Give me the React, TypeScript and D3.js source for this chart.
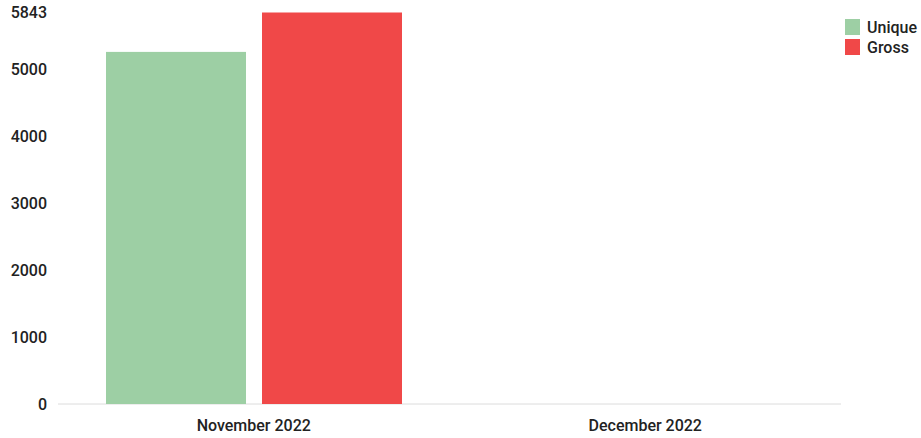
import React from "react";
import * as d3 from "d3";

const categories = ["November 2022", "December 2022"];
const seriesNames = ["Unique", "Gross"];
const uniqueValues = [5255, 0];
const grossValues = [5843, 0];
const yTicks = [0, 1000, 2000, 3000, 4000, 5000, 5843];
const colors = ["#9dcfa4", "#f04848"];

const W = 921;
const H = 438;
const margin = { left: 58, right: 80, top: 12.5, bottom: 34 };

export default function App() {
  const x0 = d3
    .scaleBand<string>()
    .domain(categories)
    .range([margin.left, W - margin.right])
    .paddingInner(0)
    .paddingOuter(0);
  const x1 = d3
    .scaleBand<string>()
    .domain(seriesNames)
    .range([48, 344])
    .paddingInner(0.1026)
    .paddingOuter(0);
  const y = d3.scaleLinear().domain([0, 5843]).range([H - margin.bottom, margin.top]);
  const values = [uniqueValues, grossValues];
  const font = "Roboto, 'Liberation Sans', Arial, sans-serif";

  return (
    <svg
      width={W}
      height={H}
      style={{ position: "absolute", left: 0, top: 0, background: "#fff" }}
      fontFamily={font}
    >
      <line
        x1={margin.left}
        x2={W - margin.right}
        y1={y(0)}
        y2={y(0)}
        stroke="#dcdcdc"
        strokeWidth={1}
      />
      {yTicks.map((t) => (
        <text
          key={t}
          x={47}
          y={y(t)}
          dy="0.35em"
          textAnchor="end"
          fontSize={16}
          fontWeight={500}
          fill="#222"
        >
          {t}
        </text>
      ))}
      {categories.map((c, ci) =>
        seriesNames.map((s, si) => {
          const v = values[si][ci];
          return (
            <rect
              key={c + s}
              x={(x0(c) as number) + (x1(s) as number)}
              y={y(v)}
              width={x1.bandwidth()}
              height={y(0) - y(v)}
              fill={colors[si]}
            />
          );
        })
      )}
      {categories.map((c) => (
        <text
          key={c}
          x={(x0(c) as number) + x0.bandwidth() / 2}
          y={431}
          textAnchor="middle"
          fontSize={16}
          fontWeight={500}
          fill="#222"
        >
          {c}
        </text>
      ))}
      {seriesNames.map((s, i) => (
        <g key={s} transform={`translate(845, ${19 + i * 20})`}>
          <rect x={0} y={0} width={15} height={16} fill={colors[i]} />
          <text x={22} y={8} dy="0.35em" fontSize={16} fontWeight={500} fill="#222">
            {s}
          </text>
        </g>
      ))}
    </svg>
  );
}
